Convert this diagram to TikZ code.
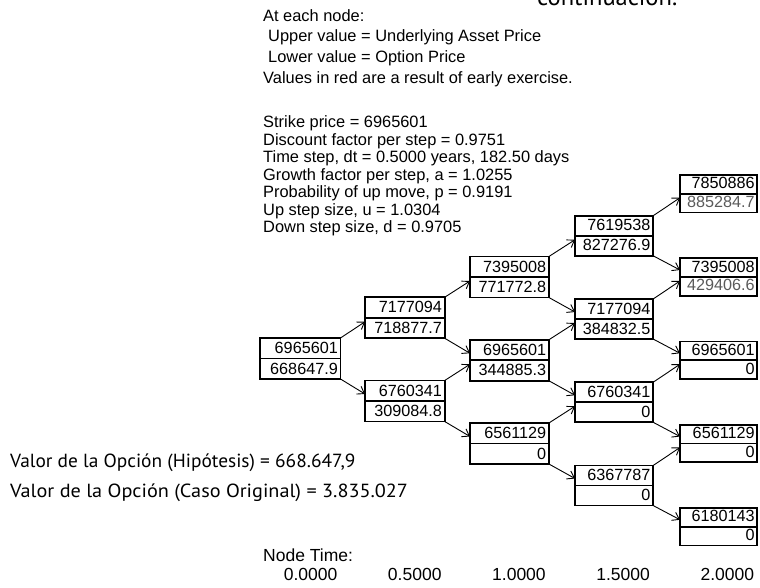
\documentclass[tikz,border=0pt]{standalone}
\usepackage{fontspec}
\usepackage{graphicx}
\setmainfont{Liberation Sans}
\newfontfamily\myriadfont{PT Sans}
\usetikzlibrary{arrows.meta,calc}
\definecolor{earlygray}{RGB}{90,90,90}

\newcommand\mytreenode[5]{%
  \pgfmathsetmacro\bx{260+105*#2}%
  \pgfmathsetmacro\by{338-40.75*#2+83.25*#3}%
  \pgfmathsetmacro\bw{80.5-0.8*#2}%
  \pgfmathsetmacro\bh{#2<3 ? 41 : (#2<4 ? 40 : 37.5)}%
  \node[box, minimum width=\bw pt, minimum height=\bh pt] (#1) at (\bx,\by) {};
  \draw[boxline] (#1.west) -- (#1.east);
  \node[val] (#1u) at ($(#1.east)+(-2.5,-5)$) {#4};
  \node[val] (#1l) at ($(#1.south east)+(-2.5,-5)$) {#5};
}

\begin{document}
\begin{tikzpicture}[x=1pt,y=-1pt,
  txt/.style={anchor=base west, inner sep=0pt, font=\fontsize{16.4}{18}\selectfont},
  box/.style={draw, line width=1.8pt, anchor=north west, inner sep=0pt, outer sep=0pt},
  boxline/.style={line width=1.8pt},
  val/.style={anchor=base east, inner sep=0pt, font=\fontsize{16.2}{18}\selectfont},
  timelbl/.style={anchor=base east, inner sep=0pt, font=\fontsize{17.5}{20}\selectfont},
  link/.style={line width=0.9pt, -{Straight Barb[length=6.5pt,width=9pt]}},
  bigtxt/.style={anchor=base west, inner sep=0pt, font=\myriadfont\fontsize{19}{22}\selectfont},
]
\clip (0,0) rectangle (760,587);

\node[anchor=base west, inner sep=0pt, font=\myriadfont\fontsize{24.5}{28}\selectfont] (cont) at (537,5) {continuación.};

\node[txt] (h1) at (263,21) {At each node:};
\node[txt] (h2) at (268,41.5) {Upper value = Underlying Asset Price};
\node[txt] (h3) at (268,62) {Lower value = Option Price};
\node[txt] (h4) at (263,83) {Values in red are a result of early exercise.};

\node[txt] (p1) at (263,127.7) {Strike price = 6965601};
\node[txt] (p2) at (263,145.2) {Discount factor per step = 0.9751};
\node[txt] (p3) at (263,162.7) {Time step, dt = 0.5000 years, 182.50 days};
\node[txt] (p4) at (263,180.2) {Growth factor per step, a = 1.0255};
\node[txt] (p5) at (263,197.7) {Probability of up move, p = 0.9191};
\node[txt] (p6) at (263,215.2) {Up step size, u = 1.0304};
\node[txt] (p7) at (263,232.7) {Down step size, d = 0.9705};

\mytreenode{n00}{0}{0}{6965601}{668647.9}
\mytreenode{n10}{1}{0}{7177094}{718877.7}
\mytreenode{n11}{1}{1}{6760341}{309084.8}
\mytreenode{n20}{2}{0}{7395008}{771772.8}
\mytreenode{n21}{2}{1}{6965601}{344885.3}
\mytreenode{n22}{2}{2}{6561129}{0}
\mytreenode{n30}{3}{0}{7619538}{827276.9}
\mytreenode{n31}{3}{1}{7177094}{384832.5}
\mytreenode{n32}{3}{2}{6760341}{0}
\mytreenode{n33}{3}{3}{6367787}{0}
\mytreenode{n40}{4}{0}{7850886}{\color{earlygray}885284.7}
\mytreenode{n41}{4}{1}{7395008}{\color{earlygray}429406.6}
\mytreenode{n42}{4}{2}{6965601}{0}
\mytreenode{n43}{4}{3}{6561129}{0}
\mytreenode{n44}{4}{4}{6180143}{0}

\foreach \i in {0,...,3} {
  \foreach \j in {0,...,\i} {
    \pgfmathtruncatemacro\ni{\i+1}
    \pgfmathtruncatemacro\nj{\j+1}
    \draw[link] (n\i\j.north east) -- ([yshift=-4pt]n\ni\j.west);
    \draw[link] (n\i\j.south east) -- ([yshift=7pt]n\ni\nj.west);
  }
}

\node[bigtxt] (v1) at (10,467) {\scalebox{1.02}[1]{Valor de la Opción (Hipótesis) = 668.647,9}};
\node[bigtxt] (v2) at (10,497) {\scalebox{1.065}[1]{Valor de la Opción (Caso Original) = 3.835.027}};

\node[txt, font=\fontsize{17.5}{20}\selectfont] (nt) at (263,561) {Node Time:};
\node[timelbl] (t0) at ($(n00.east |- 0,580)+(-3,0)$) {0.0000};
\node[timelbl] (t1) at ($(n10.east |- 0,580)+(-3,0)$) {0.5000};
\node[timelbl] (t2) at ($(n20.east |- 0,580)+(-3,0)$) {1.0000};
\node[timelbl] (t3) at ($(n30.east |- 0,580)+(-3,0)$) {1.5000};
\node[timelbl] (t4) at ($(n40.east |- 0,580)+(-3,0)$) {2.0000};
\end{tikzpicture}
\end{document}
